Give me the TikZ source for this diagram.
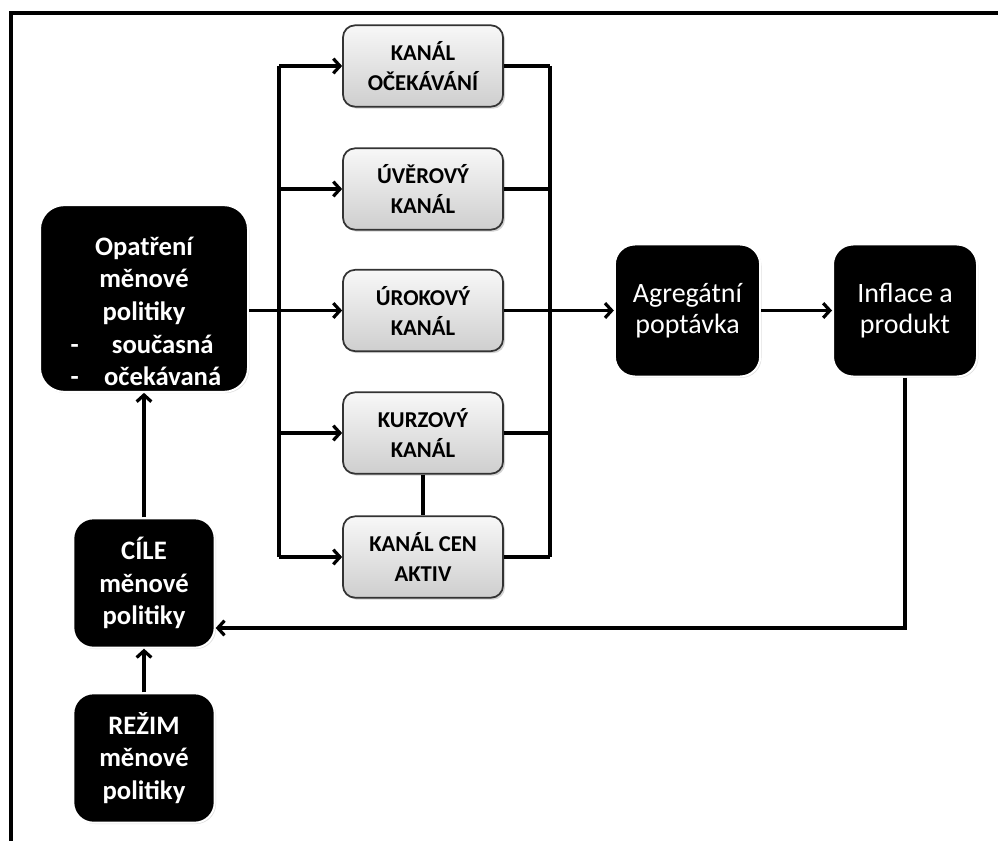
\documentclass[tikz,border=0pt]{standalone}
\usepackage{fontspec}
\setmainfont{Carlito}
\usetikzlibrary{arrows.meta, shadows}

\newcommand{\dashitem}[1]{\hbox to 110pt{\rlap{-}\hspace{69pt}\makebox[0pt]{#1}\hss}}

\tikzset{
	channel/.style = {draw = black!80, line width = 1.3pt, rounded corners = 9pt,
		top color = gray!6, bottom color = gray!38,
		minimum width = 120pt, minimum height = 61pt, align = center,
		font = \fontsize{17}{22.5}\selectfont\bfseries,
		drop shadow = {opacity = 0.35, shadow xshift = 1.5pt, shadow yshift = -1.5pt}},
	blackbox/.style = {fill = black, draw = white, line width = 1.5pt, rounded corners = 15pt,
		text = white, align = center, font = \fontsize{21}{23.5}\selectfont,
		drop shadow = {opacity = 0.25, shadow xshift = 1pt, shadow yshift = -1pt}},
	boldbox/.style = {blackbox, font = \fontsize{20}{24.5}\selectfont\bfseries},
	link/.style = {line width = 2.4pt}
}

\begin{document}
\begin{tikzpicture}[x = 0.75pt, y = -0.75pt, > = {Straight Barb[length = 5pt, width = 11pt]}]

	\useasboundingbox (0, 0) rectangle (998, 841);

	% Frame

	\draw [line width = 3pt] (10.5, 841) -- (10.5, 13) -- (998, 13);

	% Policy boxes on the left

	\node [boldbox, minimum width = 156pt, minimum height = 140pt, rounded corners = 18pt] (opatreni) at (144, 298.5)
		{\rule{0pt}{33pt}Opatření\\měnové\\politiky\\\dashitem{současná}\\\dashitem{očekávaná}};
	\node [boldbox, minimum width = 106pt, minimum height = 97pt] (cile) at (144, 583)
		{CÍLE\\měnové\\politiky};
	\node [boldbox, minimum width = 106pt, minimum height = 97pt] (rezim) at (144, 758)
		{REŽIM\\měnové\\politiky};

	% Transmission channels

	\node [channel] (ocekavani) at (423, 66) {KANÁL\\OČEKÁVÁNÍ};
	\node [channel] (uver) at (423, 189) {ÚVĚROVÝ\\KANÁL};
	\node [channel] (urok) at (423, 310.5) {ÚROKOVÝ\\KANÁL};
	\node [channel] (kurz) at (423, 433) {KURZOVÝ\\KANÁL};
	\node [channel] (ceny) at (423, 557) {KANÁL CEN\\AKTIV};

	% Demand and output

	\node [blackbox, minimum width = 109pt, minimum height = 99pt] (agreg) at (687.5, 310.5)
		{Agregátní\\poptávka};
	\node [blackbox, minimum width = 108pt, minimum height = 99pt] (inflace) at (905, 310.5)
		{Inflace a\\produkt};

	% Buses

	\coordinate (busL) at (279, 310.5);
	\coordinate (busR) at (550, 310.5);
	\coordinate (fb) at (904, 628);

	\draw [link] (busL |- ocekavani.west) -- (busL |- ceny.west);
	\foreach \ch in {ocekavani, uver, kurz, ceny}
		\draw [link, ->] (busL |- \ch.west) -- (\ch.west);

	\draw [link] (busR |- ocekavani.east) -- (busR |- ceny.east);
	\foreach \ch in {ocekavani, uver, kurz, ceny}
		\draw [link] (\ch.east) -- (busR |- \ch.east);

	% Main path

	\draw [link, ->] (opatreni.east |- urok.west) -- (urok.west);
	\draw [link, ->] (urok.east) -- (agreg.west);
	\draw [link, ->] (agreg.east) -- (inflace.west);
	\draw [link] (kurz.south) -- (ceny.north);

	% Feedback and targets

	\draw [link, ->] (inflace.south) -- (inflace.south |- fb) -- (cile.east |- fb);
	\draw [link, ->] (cile.north) -- (opatreni.south);
	\draw [link, ->] (rezim.north) -- (cile.south);

\end{tikzpicture}
\end{document}
